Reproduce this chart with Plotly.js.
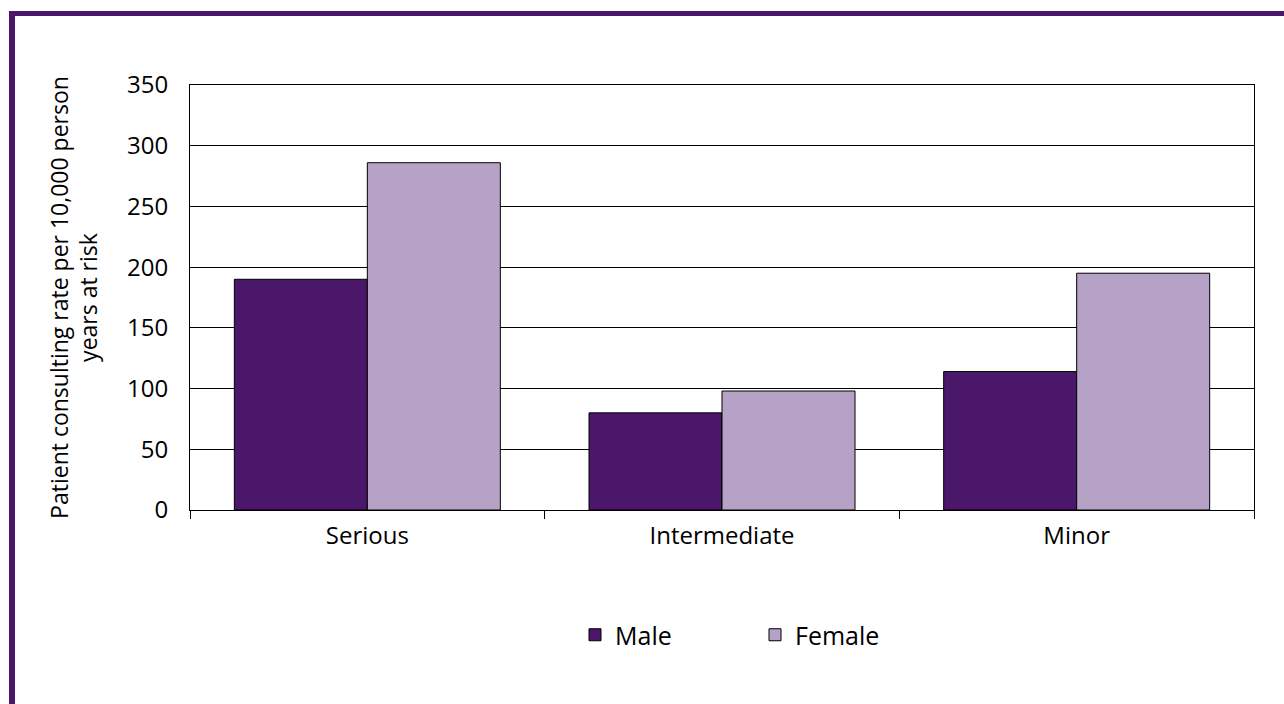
<!DOCTYPE html>
<html>
<head>
<meta charset="utf-8">
<script src="https://cdn.plot.ly/plotly-3.0.1.min.js"></script>
<style>
html,body{margin:0;padding:0;background:#fff;}
#chart{width:1284px;height:704px;}
</style>
</head>
<body>
<div id="chart"></div>
<script>
const categories = ["Serious", "Intermediate", "Minor"];
const maleValues = [190, 80, 114];
const femaleValues = [286, 98, 195];
const seriesNames = ["Male", "Female"];
const yTicks = [0, 50, 100, 150, 200, 250, 300, 350];

const W = 1284, H = 704, L = 190, R = 30, T = 85, B = 194;
const pw = W - L - R, ph = H - T - B;
const px = x => (x - L) / pw;
const py = y => (H - B - y) / ph;
const frameColor = "#4B176B";

const traces = [
  {type: "bar", name: seriesNames[0], x: categories, y: maleValues,
   marker: {color: "#4B176B", line: {color: "#000", width: 1}}},
  {type: "bar", name: seriesNames[1], x: categories, y: femaleValues,
   marker: {color: "#B5A2C6", line: {color: "#000", width: 1}}}
];

const layout = {
  width: W, height: H,
  margin: {l: L, r: R, t: T, b: B, pad: 0},
  paper_bgcolor: "#fff", plot_bgcolor: "#fff",
  font: {family: "Open Sans, Noto Sans, sans-serif", size: 24, color: "#000"},
  barmode: "group", bargap: 0.25, bargroupgap: 0,
  showlegend: true,
  legend: {orientation: "h", x: px(575), xanchor: "left", y: py(635), yanchor: "middle",
           font: {size: 25}, entrywidth: 135, entrywidthmode: "pixels"},
  xaxis: {type: "category", showline: true, linecolor: "#000", linewidth: 1, mirror: true,
          ticks: "outside", tickson: "boundaries", ticklen: 8, tickcolor: "#000",
          showgrid: false, tickfont: {size: 24}, ticklabelstandoff: 4},
  yaxis: {range: [0, 350], tickvals: yTicks, showline: true, linecolor: "#000", linewidth: 1,
          mirror: true, ticks: "", showgrid: true, gridcolor: "#000", gridwidth: 1, zeroline: false,
          tickfont: {size: 24}, ticklabelstandoff: 16,
          title: {text: "Patient consulting rate per 10,000 person<br>years at risk",
                  font: {size: 23}, standoff: 22}},
  shapes: [
    {type: "rect", xref: "paper", yref: "paper", x0: px(9), x1: px(15), y0: py(704), y1: py(11),
     fillcolor: frameColor, line: {width: 0}, layer: "above"},
    {type: "rect", xref: "paper", yref: "paper", x0: px(9), x1: px(1284), y0: py(16), y1: py(11),
     fillcolor: frameColor, line: {width: 0}, layer: "above"}
  ]
};

Plotly.newPlot("chart", traces, layout, {displayModeBar: false, staticPlot: true});
</script>
</body>
</html>
